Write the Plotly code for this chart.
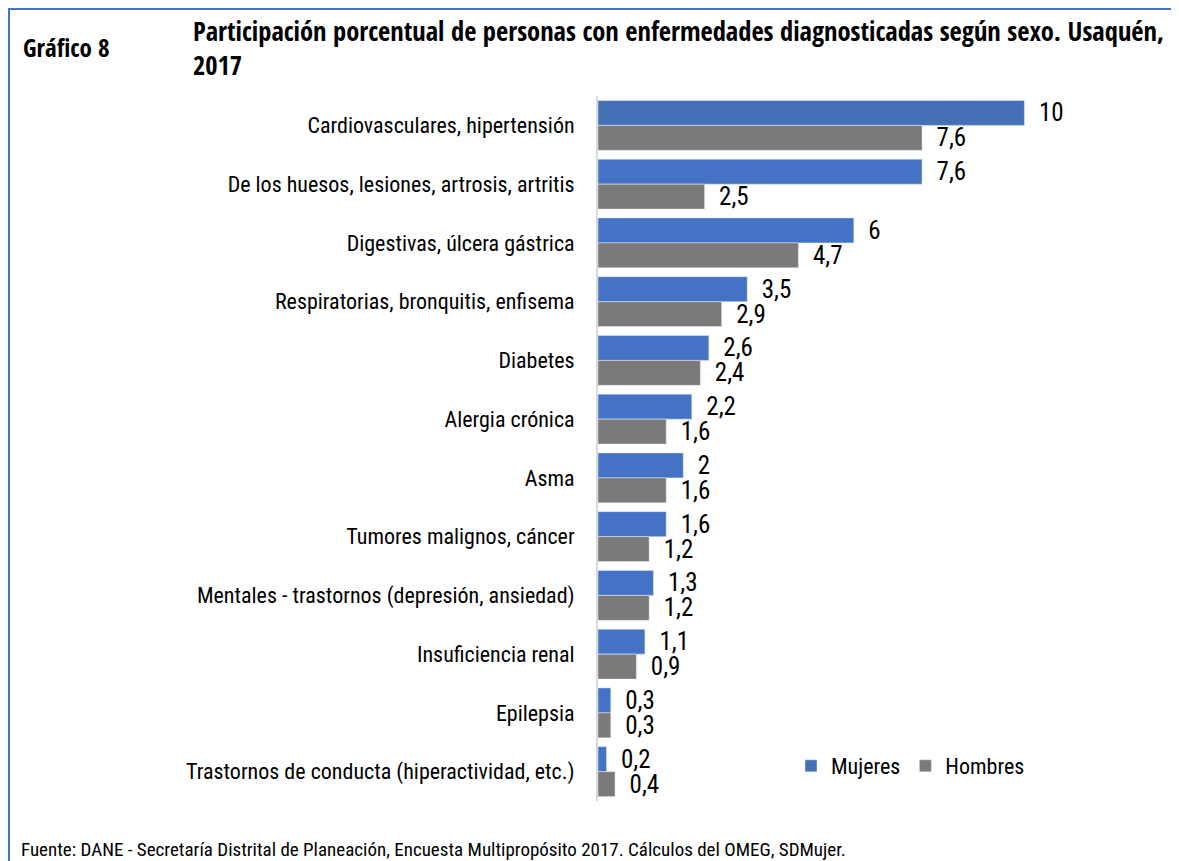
import plotly.graph_objects as go

categorias = [
    "Cardiovasculares, hipertensión",
    "De los huesos, lesiones, artrosis, artritis",
    "Digestivas, úlcera gástrica",
    "Respiratorias, bronquitis, enfisema",
    "Diabetes",
    "Alergia crónica",
    "Asma",
    "Tumores malignos, cáncer",
    "Mentales - trastornos (depresión, ansiedad)",
    "Insuficiencia renal",
    "Epilepsia",
    "Trastornos de conducta (hiperactividad, etc.)",
]
mujeres = [10, 7.6, 6, 3.5, 2.6, 2.2, 2, 1.6, 1.3, 1.1, 0.3, 0.2]
hombres = [7.6, 2.5, 4.7, 2.9, 2.4, 1.6, 1.6, 1.2, 1.2, 0.9, 0.3, 0.4]

# the page body adds an 8px margin, so the figure is drawn 8px smaller and
# reference pixel positions are shifted by OFF
OFF = 8
W, H = 1179 - OFF, 861 - OFF
L, R, T, B = 590, 48, 88, 60
FONT = "Roboto Condensed, Liberation Sans Narrow, sans-serif"
FONT_B = "Open Sans Condensed, Roboto Condensed, sans-serif"
AZUL = "#4472C4"
GRIS = "#7A7A7A"


def etiqueta(v):
    return "  " + f"{v:g}".replace(".", ",")


def px(x):
    return (x - OFF - L) / (W - L - R)


def py(y):
    return (H - B - (y - OFF)) / (H - T - B)


fig = go.Figure()
fig.add_trace(go.Bar(
    y=categorias, x=mujeres, name="Mujeres", orientation="h",
    marker=dict(color=["#4470B5"] + [AZUL] * (len(mujeres) - 1)),
    text=[etiqueta(v) for v in mujeres], textposition="outside",
    textfont=dict(size=25, color="#000000", family=FONT),
    constraintext="none", cliponaxis=False, legendrank=1,
))
fig.add_trace(go.Bar(
    y=categorias, x=hombres, name="Hombres", orientation="h",
    marker=dict(color=GRIS),
    text=[etiqueta(v) for v in hombres], textposition="outside",
    textfont=dict(size=25, color="#000000", family=FONT),
    constraintext="none", cliponaxis=False, legendrank=2,
))

fig.update_layout(
    width=W, height=H,
    margin=dict(l=L, r=R, t=T, b=B, autoexpand=False),
    barmode="group", bargap=0.15, bargroupgap=0.0,
    plot_bgcolor="white", paper_bgcolor="white",
    font=dict(family=FONT, size=22, color="#000000"),
    xaxis=dict(range=[0, 12.5], visible=False),
    yaxis=dict(autorange="reversed", showline=True, linecolor="#D9D9D9",
               linewidth=2, ticks="", ticklabelstandoff=17,
               tickfont=dict(size=22, family=FONT)),
    legend=dict(orientation="h", x=px(791), y=py(766), xanchor="left",
                yanchor="middle", font=dict(size=22, family=FONT),
                itemwidth=30, bgcolor="rgba(0,0,0,0)"),
)

# Marco azul (izquierda y arriba)
fig.add_shape(type="line", xref="paper", yref="paper",
              x0=px(9), x1=px(9), y0=py(7), y1=py(870),
              line=dict(color=AZUL, width=2))
fig.add_shape(type="line", xref="paper", yref="paper",
              x0=px(8), x1=px(1190), y0=py(9), y1=py(9),
              line=dict(color=AZUL, width=2))

fig.add_annotation(text="<b>Gráfico 8</b>", xref="paper", yref="paper",
                   x=px(21), y=py(47), xanchor="left", yanchor="middle",
                   showarrow=False, font=dict(size=25, family=FONT_B))
fig.add_annotation(
    text="<b>Participación porcentual de personas con enfermedades diagnosticadas según sexo. Usaquén,</b><br><b>2017</b>",
    xref="paper", yref="paper", x=px(191), y=py(48), xanchor="left",
    yanchor="middle", align="left", showarrow=False,
    font=dict(size=26.5, family=FONT_B))
fig.add_annotation(
    text="Fuente: DANE - Secretaría Distrital de Planeación, Encuesta Multipropósito 2017. Cálculos del OMEG, SDMujer.",
    xref="paper", yref="paper", x=px(19), y=py(849), xanchor="left",
    yanchor="middle", align="left", showarrow=False,
    font=dict(size=19, family=FONT))

fig.write_html("out.html")
